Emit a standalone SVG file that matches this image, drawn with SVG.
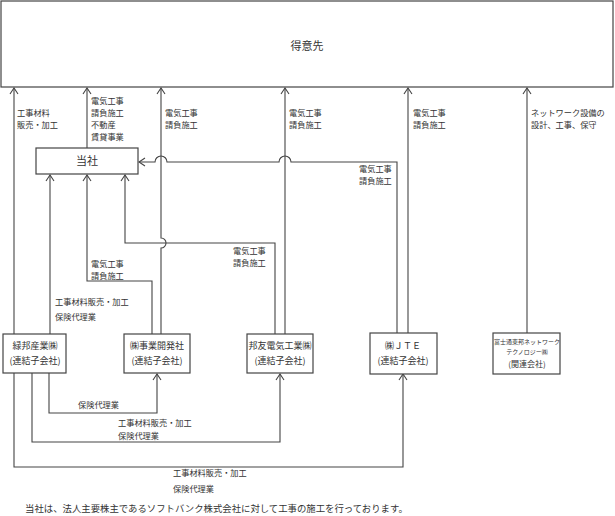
<svg xmlns="http://www.w3.org/2000/svg" width="615" height="516" viewBox="0 0 615 516">
<style>
text{font-family:"Noto Sans CJK JP","Noto Sans CJK SC",sans-serif;fill:#333}
.lb{font-size:8.2px}
.ft{font-size:9.4px}
.nd{font-size:9px;text-anchor:middle}
.sm{font-size:6px;text-anchor:middle}
.big{font-size:11px;text-anchor:middle}
.box{fill:#fff;stroke:#444;stroke-width:1.2}
.c{fill:none;stroke:#444;stroke-width:1.1}
</style>
<defs>
<marker id="ah" viewBox="-1 -5 8 10" refX="6" refY="0" markerWidth="8" markerHeight="10" markerUnits="userSpaceOnUse" orient="auto">
<path d="M0,-4 L6,0 L0,4" fill="none" stroke="#444" stroke-width="1.1"/>
</marker>
</defs>
<rect width="615" height="516" fill="#fff"/>
<g id="connectors">
<path class="c" marker-end="url(#ah)" d="M14,334 V88"/>
<path class="c" marker-end="url(#ah)" d="M87,148 V88"/>
<path class="c" marker-end="url(#ah)" d="M161,334 V248 A5,5 0 0 0 161,238 V88"/>
<path class="c" marker-end="url(#ah)" d="M285,334 V88"/>
<path class="c" marker-end="url(#ah)" d="M408,333 V88"/>
<path class="c" marker-end="url(#ah)" d="M527,333 V88"/>
<path class="c" marker-end="url(#ah)" d="M397,333 V162 H291 A6,6 0 0 0 279,162 H167 A6,6 0 0 0 155,162 H139"/>
<path class="c" marker-end="url(#ah)" d="M50,334 V175"/>
<path class="c" marker-end="url(#ah)" d="M152,334 V281 H87 V175"/>
<path class="c" marker-end="url(#ah)" d="M275,334 V243 H125 V175"/>
<path class="c" marker-end="url(#ah)" d="M49,373 V413 H157 V374"/>
<path class="c" marker-end="url(#ah)" d="M32,373 V442 H280 V374"/>
<path class="c" marker-end="url(#ah)" d="M14,373 V467 H403 V374"/>
</g>
<g id="labels" class="lb">
<text x="17" y="116">工事材料</text>
<text x="17" y="128">販売・加工</text>
<text x="91" y="104">電気工事</text>
<text x="91" y="116">請負施工</text>
<text x="91" y="128">不動産</text>
<text x="91" y="140">賃貸事業</text>
<text x="165" y="116">電気工事</text>
<text x="165" y="128">請負施工</text>
<text x="289" y="116">電気工事</text>
<text x="289" y="128">請負施工</text>
<text x="413" y="116">電気工事</text>
<text x="413" y="128">請負施工</text>
<text x="531" y="116">ネットワーク設備の</text>
<text x="531" y="128">設計、工事、保守</text>
<text x="359" y="171.5">電気工事</text>
<text x="359" y="183.5">請負施工</text>
<text x="233" y="253.5">電気工事</text>
<text x="233" y="265.5">請負施工</text>
<text x="91" y="267">電気工事</text>
<text x="91" y="279">請負施工</text>
<text x="55" y="304.5">工事材料販売・加工</text>
<text x="55" y="320">保険代理業</text>
<text x="78" y="408">保険代理業</text>
<text x="118" y="426">工事材料販売・加工</text>
<text x="118" y="438.5">保険代理業</text>
<text x="173" y="475.5">工事材料販売・加工</text>
<text x="173" y="491.5">保険代理業</text>
<text class="ft" x="25" y="511.5">当社は、法人主要株主であるソフトバンク株式会社に対して工事の施工を行っております。</text>
</g>
<g id="tokuisaki">
<rect class="box" x="1" y="1" width="612" height="86"/>
<text class="big" x="307" y="49.5">得意先</text>
</g>
<g id="tosha">
<rect class="box" x="36" y="148" width="102" height="26"/>
<text class="big" x="87" y="165">当社</text>
</g>
<g id="ryokuho">
<rect class="box" x="3" y="334" width="63" height="39"/>
<text class="nd" x="35" y="349">緑邦産業㈱</text>
<text class="nd" x="35" y="364">(連結子会社)</text>
</g>
<g id="jigyokaihatsu">
<rect class="box" x="124" y="334" width="66" height="39"/>
<text class="nd" x="157" y="349">㈱事業開発社</text>
<text class="nd" x="157" y="364">(連結子会社)</text>
</g>
<g id="hoyu">
<rect class="box" x="247" y="334" width="66" height="39"/>
<text class="nd" x="280" y="349">邦友電気工業㈱</text>
<text class="nd" x="280" y="364">(連結子会社)</text>
</g>
<g id="jte">
<rect class="box" x="370" y="333" width="67" height="41"/>
<text class="nd" x="403" y="349">㈱ＪＴＥ</text>
<text class="nd" x="403" y="364">(連結子会社)</text>
</g>
<g id="fujitsu">
<rect class="box" x="493" y="333" width="67" height="41"/>
<text class="sm" x="527" y="344">富士通東邦ネットワーク</text>
<text class="sm" x="527" y="354">テクノロジー㈱</text>
<text class="nd" x="527" y="367" style="font-size:8px">(関連会社)</text>
</g>
</svg>
